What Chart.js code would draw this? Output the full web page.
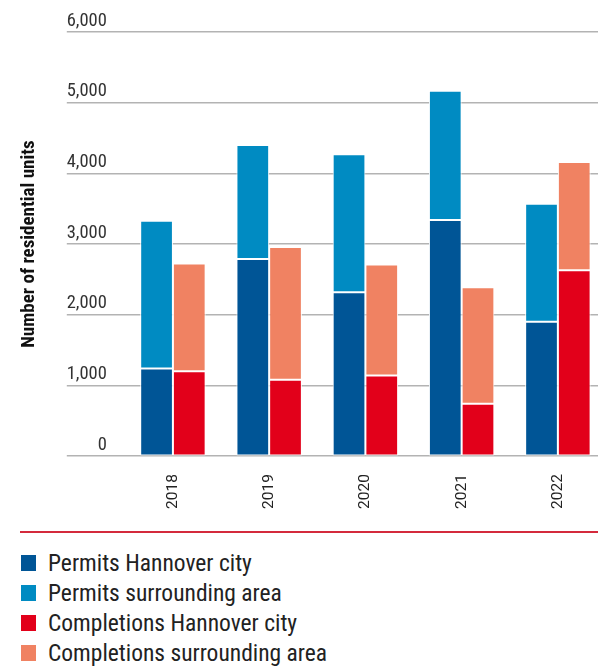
<!DOCTYPE html>
<html>
<head>
<meta charset="utf-8">
<script src="https://cdn.jsdelivr.net/npm/chart.js@4"></script>
<style>
  html, body { margin: 0; padding: 0; background: #fff; overflow: hidden; }
  body { width: 598px; height: 667px; position: relative; font-family: 'Roboto Condensed', 'Liberation Sans Narrow', Roboto, sans-serif; }
  #wrap { position: absolute; left: 0; top: 0; width: 606px; height: 523px; }
  #sep { position: absolute; left: 20px; top: 531px; width: 578px; height: 2px; background: #d42a3c; }
  #legend { position: absolute; left: 21px; top: 548px; }
  .item { height: 30px; display: flex; align-items: center; font-size: 23.5px; color: #222; white-space: nowrap; }
  .item span.box { width: 15px; height: 16px; margin-right: 12px; display: inline-block; }
</style>
</head>
<body>
<div id="wrap"><canvas id="housingChart"></canvas></div>
<div id="sep"></div>
<div id="legend"></div>
<script>
const years = ['2018', '2019', '2020', '2021', '2022'];
const yTicks = [0, 1000, 2000, 3000, 4000, 5000, 6000];

// Baugenehmigungen / Fertigstellungen (Wohneinheiten)
const permitsCity = [1240, 2790, 2320, 3340, 1900];
const permitsSurrounding = [2090, 1610, 1950, 1830, 1670];
const completionsCity = [1200, 1080, 1140, 740, 2630];
const completionsSurrounding = [1525, 1880, 1570, 1650, 1530];

const seriesLabels = ['Permits Hannover city', 'Permits surrounding area', 'Completions Hannover city', 'Completions surrounding area'];
const seriesColors = ['#005596', '#008bc2', '#e2001a', '#f08262'];

const font = "'Roboto Condensed', 'Liberation Sans Narrow', Roboto, sans-serif";

function makeSet(i, data, stack) {
  return {
    label: seriesLabels[i],
    data: data,
    stack: stack,
    backgroundColor: seriesColors[i],
    borderColor: '#ffffff',
    borderWidth: 1,
    borderSkipped: false,
    categoryPercentage: 0.68,
    barPercentage: 1
  };
}

const ctx = document.getElementById('housingChart').getContext('2d');
const chart = new Chart(ctx, {
  type: 'bar',
  data: {
    labels: years,
    datasets: [
      makeSet(0, permitsCity, 'permits'),
      makeSet(1, permitsSurrounding, 'permits'),
      makeSet(2, completionsCity, 'completions'),
      makeSet(3, completionsSurrounding, 'completions')
    ]
  },
  options: {
    responsive: true,
    maintainAspectRatio: false,
    animation: false,
    layout: { padding: { top: 32, left: 0, right: 0, bottom: 4 } },
    plugins: {
      legend: { display: false },
      tooltip: { enabled: false }
    },
    scales: {
      x: {
        stacked: true,
        grid: { display: false },
        border: { display: false },
        ticks: {
          minRotation: 90,
          maxRotation: 90,
          padding: 10,
          color: '#222',
          font: { family: 'Roboto, sans-serif', size: 15.5 }
        }
      },
      y: {
        stacked: true,
        min: 0,
        max: 6000,
        afterBuildTicks: s => { s.ticks = yTicks.map(v => ({ value: v })); },
        afterFit: s => { s.width = 124.8; },
        border: { display: false },
        grid: { color: '#b3b3b3', lineWidth: 1.5, tickLength: 58, tickColor: '#b3b3b3' },
        ticks: {
          padding: -40,
          labelOffset: -11,
          color: '#333',
          font: { family: font, size: 18.5 },
          callback: v => v.toLocaleString('en-US')
        },
        title: {
          display: true,
          text: 'Number of residential units',
          color: '#111',
          padding: { top: 18, bottom: 0 },
          font: { family: font, size: 19, weight: 'bold' }
        }
      }
    }
  }
});

// Legende unter dem Diagramm
const legend = document.getElementById('legend');
seriesLabels.forEach((label, i) => {
  const row = document.createElement('div');
  row.className = 'item';
  const box = document.createElement('span');
  box.className = 'box';
  box.style.background = seriesColors[i];
  row.appendChild(box);
  row.appendChild(document.createTextNode(label));
  legend.appendChild(row);
});
</script>
</body>
</html>
